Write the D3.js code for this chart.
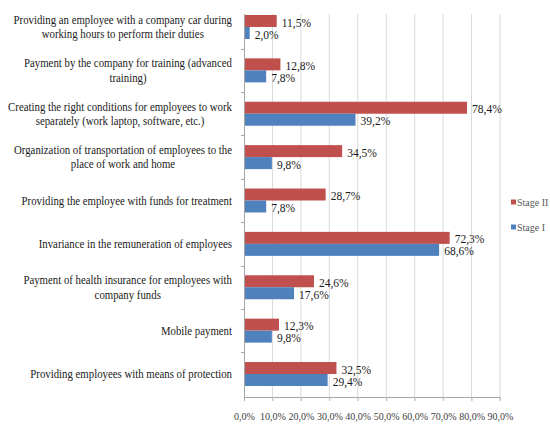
<!DOCTYPE html>
<html><head><meta charset="utf-8">
<script src="https://cdn.jsdelivr.net/npm/d3@7"></script>
<style>body{margin:0;background:#fff}svg{display:block}</style>
</head><body>
<svg id="c" width="550" height="424"></svg>
<script>
const categories = [
  "Providing an employee with a company car during\nworking hours to perform their duties",
  "Payment by the company for training (advanced\ntraining)",
  "Creating the right conditions for employees to work\nseparately (work laptop, software, etc.)",
  "Organization of transportation of employees to the\nplace of work and home",
  "Providing the employee with funds for treatment",
  "Invariance in the remuneration of employees",
  "Payment of health insurance for employees with\ncompany funds",
  "Mobile payment",
  "Providing employees with means of protection"
];
const seriesNames = ["Stage II", "Stage I"];
const stage2 = [11.5, 12.8, 78.4, 34.5, 28.7, 72.3, 24.6, 12.3, 32.5];
const stage1 = [2.0, 7.8, 39.2, 9.8, 7.8, 68.6, 17.6, 9.8, 29.4];
const xTicks = [0,10,20,30,40,50,60,70,80,90];
const colors = ["#C0504D", "#4F81BD"];

const FONT = "Liberation Serif, Times New Roman, serif";
const svg = d3.select("#c");
const fmt = v => v.toFixed(1).replace(".", ",") + "%";

const x = d3.scaleLinear().domain([0, 90]).range([244, 500]);
const p = 0.447;
const y = d3.scaleBand().domain(categories).range([5.3, 395.7]).paddingInner(p).paddingOuter(p/2);
const ys = d3.scaleBand().domain(seriesNames).range([0, y.bandwidth()]);
const plotTop = 14, plotBottom = 397;

// gridlines
svg.append("g").selectAll("line").data(xTicks.slice(1)).join("line")
  .attr("x1", d => x(d)).attr("x2", d => x(d))
  .attr("y1", plotTop).attr("y2", plotBottom + 4)
  .attr("stroke", "#d9d9d9").attr("stroke-width", 1);

// bottom axis
const xAxis = d3.axisBottom(x).tickValues(xTicks).tickSize(4).tickFormat(d => fmt(d));
const gx = svg.append("g").attr("transform", `translate(0,${plotBottom})`).call(xAxis);
gx.select(".domain").attr("stroke", "#a6a6a6").attr("d", `M${x(0)},0.5H${x(90)}`);
gx.selectAll(".tick line").attr("stroke", "#bfbfbf");
gx.selectAll("text").attr("font-family", FONT).attr("font-size", 10)
  .attr("fill", "#404040").attr("y", 16);

// left axis
svg.append("line").attr("x1", x(0)+0.5).attr("x2", x(0)+0.5).attr("y1", plotTop).attr("y2", plotBottom+4)
  .attr("stroke", "#a6a6a6");
const bounds = categories.slice(1).map(c => y(c) - y.step()*p/2);
svg.append("g").selectAll("line").data(bounds).join("line")
  .attr("x1", x(0) - 3).attr("x2", x(0)).attr("y1", d => Math.round(d)+0.5).attr("y2", d => Math.round(d)+0.5)
  .attr("stroke", "#a6a6a6");

// bars
const rows = categories.map((c, i) => ({c, vals: [stage2[i], stage1[i]]}));
const g = svg.append("g").selectAll("g").data(rows).join("g")
  .attr("transform", d => `translate(0,${y(d.c)})`);
g.selectAll("rect").data(d => d.vals.map((v, j) => ({v, s: seriesNames[j], j}))).join("rect")
  .attr("x", x(0)+1).attr("y", d => ys(d.s))
  .attr("width", d => x(d.v) - x(0) - 1).attr("height", ys.bandwidth())
  .attr("fill", d => colors[d.j]);
g.selectAll("text").data(d => d.vals.map((v, j) => ({v, s: seriesNames[j], j}))).join("text")
  .attr("x", d => x(d.v) + 5).attr("y", d => ys(d.s) + ys.bandwidth()/2 + 1.5)
  .attr("dy", "0.35em")
  .attr("font-family", FONT).attr("font-size", 11.5).attr("fill", "#1a1a1a")
  .text(d => fmt(d.v));

// category labels
categories.forEach(c => {
  const lines = c.split("\n");
  const cy = y(c) + y.bandwidth()/2;
  const lg = svg.append("g").attr("transform", `translate(232,${cy}) scale(0.9,1)`);
  const texts = lines.map((t, k) => lg.append("text")
    .attr("y", (k - (lines.length-1)/2) * 14.3)
    .attr("dy", "0.35em")
    .attr("font-family", FONT).attr("font-size", 12).attr("fill", "#1a1a1a")
    .attr("text-anchor", "middle").text(t));
  const w = d3.max(texts, t => t.node().getComputedTextLength());
  texts.forEach(t => t.attr("x", -w/2));
});

// legend
const leg = svg.append("g").selectAll("g").data(seriesNames).join("g")
  .attr("transform", (d, i) => `translate(511,${202 + i*25})`);
leg.append("rect").attr("x", 0).attr("y", -2.5).attr("width", 5).attr("height", 5)
  .attr("fill", (d, i) => colors[i]);
leg.append("text").attr("x", 6).attr("dy", "0.35em")
  .attr("font-family", FONT).attr("font-size", 10).attr("fill", "#595959")
  .text(d => d);
</script>
</body></html>
